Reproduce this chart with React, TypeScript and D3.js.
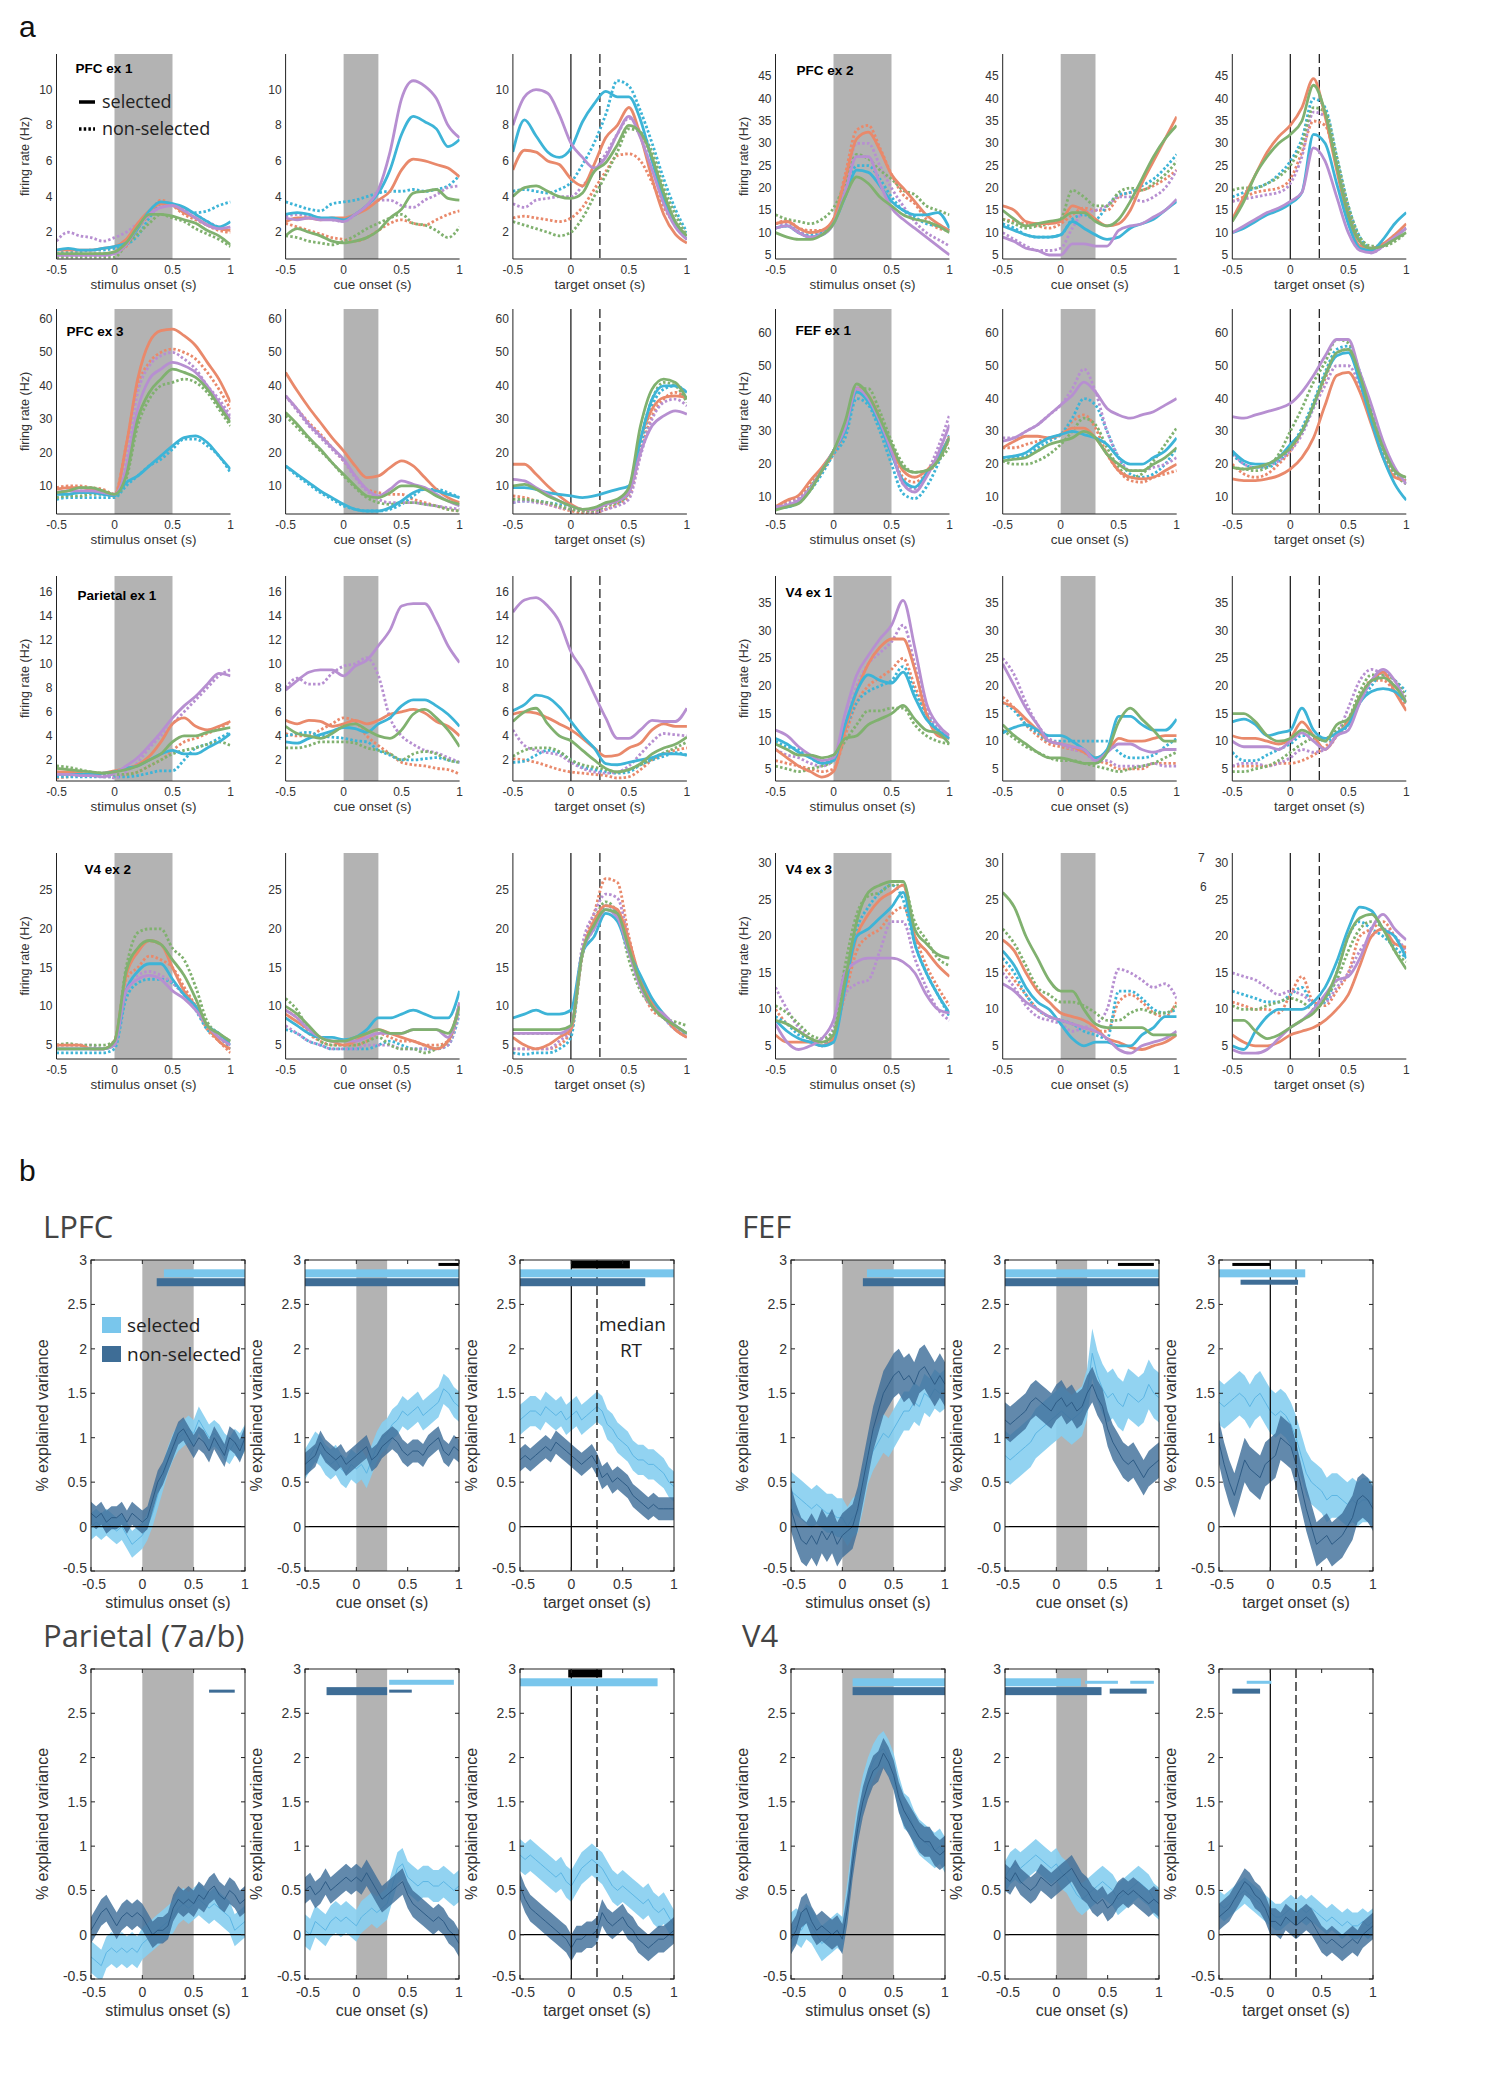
import React from 'react';
import * as d3 from 'd3';

// time grids (s)
const timeA = [-0.5, -0.4, -0.3, -0.2, -0.1, 0, 0.1, 0.2, 0.3, 0.4, 0.5, 0.6, 0.7, 0.8, 0.9, 1];
const timeB = [-0.5, -0.45, -0.4, -0.35, -0.3, -0.25, -0.2, -0.15, -0.1, -0.05, 0, 0.05, 0.1, 0.15, 0.2, 0.25,
  0.3, 0.35, 0.4, 0.45, 0.5, 0.55, 0.6, 0.65, 0.7, 0.75, 0.8, 0.85, 0.9, 0.95, 1];

const xTicks = [-0.5, 0, 0.5, 1];
const epochLabels = ['stimulus onset (s)', 'cue onset (s)', 'target onset (s)'];
const shadeEnd = [0.5, 0.3, null];
const medianRT = 0.25;

// series order in every panel of (a): orange sel, orange non, blue sel, blue non, purple sel, purple non, green sel, green non
const seriesColors = ['#E9896B', '#E9896B', '#3DB4D7', '#3DB4D7', '#B78FD1', '#B78FD1', '#80B16F', '#80B16F'];

// ---------- (a) firing rates ----------
const pfc1Stim = [
  [1.0, 1.0, 1.0, 1.0, 1.1, 1.2, 1.6, 2.5, 3.2, 3.6, 3.5, 3.1, 2.8, 2.4, 2.2, 2.1],
  [0.6, 0.7, 0.7, 0.8, 0.8, 0.9, 1.2, 2.2, 3.0, 3.8, 3.5, 3.0, 2.7, 2.4, 2.1, 2.0],
  [1.0, 1.1, 1.0, 1.0, 1.1, 1.2, 1.4, 2.2, 3.2, 3.7, 3.6, 3.4, 3.0, 2.6, 2.3, 2.6],
  [0.8, 0.9, 0.9, 1.0, 1.0, 1.1, 1.3, 1.8, 2.8, 3.6, 3.5, 3.3, 3.1, 3.2, 3.5, 3.7],
  [0.7, 0.7, 0.7, 0.7, 0.7, 0.8, 1.3, 2.3, 3.0, 3.4, 3.5, 3.2, 2.8, 2.4, 2.2, 2.3],
  [1.5, 2.0, 1.8, 1.7, 1.5, 1.7, 2.0, 2.5, 3.0, 3.4, 3.5, 3.3, 3.0, 2.6, 2.3, 2.2],
  [0.8, 0.8, 0.8, 0.8, 0.8, 0.9, 1.4, 2.3, 3.0, 3.0, 2.9, 2.7, 2.5, 2.1, 1.8, 1.3],
  [0.6, 0.6, 0.6, 0.6, 0.6, 0.6, 1.3, 1.9, 2.5, 3.0, 2.8, 2.6, 2.2, 1.9, 1.6, 1.2],
];
const pfc1Cue = [
  [2.6, 2.8, 2.8, 2.7, 2.8, 2.8, 3.0, 3.3, 3.8, 4.3, 5.5, 6.1, 6.0, 5.8, 5.6, 5.1],
  [2.5, 2.3, 2.1, 1.9, 1.7, 1.6, 1.5, 1.7, 2.1, 2.5, 2.7, 2.5, 2.4, 2.7, 3.0, 3.2],
  [3.0, 3.1, 3.0, 2.8, 2.8, 2.7, 3.0, 3.5, 4.2, 5.5, 7.5, 8.5, 8.2, 7.8, 6.8, 7.2],
  [3.7, 3.5, 3.3, 3.2, 3.6, 3.7, 3.8, 4.0, 4.2, 4.3, 4.3, 4.4, 4.3, 4.4, 4.6, 5.2],
  [2.8, 2.7, 2.8, 2.7, 2.7, 2.6, 3.0, 3.5, 4.4, 6.5, 9.5, 10.5, 10.2, 9.5, 8.0, 7.3],
  [2.9, 3.0, 2.9, 2.8, 2.7, 2.6, 3.0, 3.4, 3.8, 3.8, 3.5, 3.4, 3.8, 4.1, 4.5, 4.6],
  [1.8, 2.2, 2.0, 1.8, 1.5, 1.4, 1.5, 1.7, 2.1, 2.8, 3.3, 4.2, 4.3, 4.4, 3.9, 3.8],
  [1.8, 1.7, 1.5, 1.4, 1.3, 1.5, 1.8, 2.2, 2.5, 2.8, 3.0, 2.5, 2.4, 2.1, 1.7, 2.3],
];
const pfc1Target = [
  [5.5, 6.6, 6.5, 6.0, 5.8, 5.0, 4.6, 5.8, 7.3, 8.0, 9.0, 7.4, 5.0, 3.0, 1.9, 1.4],
  [2.8, 2.9, 2.8, 2.7, 2.6, 2.8, 3.4, 4.4, 5.4, 6.3, 6.4, 6.0, 4.8, 3.4, 2.4, 1.6],
  [6.5, 8.3, 7.4, 6.5, 6.2, 6.7, 8.2, 9.2, 9.9, 9.6, 9.6, 8.3, 6.0, 3.9, 2.4, 1.6],
  [4.3, 4.4, 4.3, 4.2, 4.4, 4.8, 5.8, 7.0, 8.6, 10.5, 10.2, 8.8, 7.0, 5.0, 3.3, 2.0],
  [8.0, 9.6, 10.0, 9.8, 8.6, 7.0, 6.2, 5.6, 6.2, 7.5, 8.5, 7.3, 5.5, 3.6, 2.3, 1.6],
  [3.6, 3.4, 3.8, 3.9, 4.0, 4.0, 4.6, 5.4, 6.4, 7.5, 8.4, 7.6, 6.0, 4.1, 2.6, 1.8],
  [4.0, 4.5, 4.6, 4.3, 4.0, 3.9, 4.2, 5.4, 5.9, 6.9, 8.0, 7.6, 6.2, 4.2, 2.6, 1.8],
  [2.6, 2.4, 2.2, 2.0, 1.8, 2.0, 2.8, 4.0, 5.2, 6.5, 7.8, 7.6, 6.5, 4.5, 3.0, 1.8],
];

const pfc2Stim = [
  [12, 12.5, 11, 10, 10.5, 13, 22, 31, 32.5, 28.5, 23, 20, 17, 14, 12, 10.5],
  [12, 12.8, 11, 10.5, 10.5, 13, 23, 33, 34, 29, 23, 18.5, 16.5, 13, 11, 10.5],
  [11, 11.5, 10, 9, 9.5, 12, 18, 24, 23.5, 20.5, 17, 15, 14, 14, 14.5, 11],
  [11, 11.5, 10, 9.5, 10, 12.5, 19, 25, 25, 22, 18, 15, 13.5, 12, 11.5, 10.5],
  [11, 11.5, 10, 9, 9.5, 12, 19, 27, 27, 21, 15.5, 13, 11, 9, 7, 5],
  [12, 12, 10.5, 9, 10, 12.5, 21, 30, 30, 25, 20, 16, 12.5, 10, 8.5, 7],
  [10, 9, 8.5, 8.5, 9.5, 12, 18, 22.5, 21, 18, 16, 14, 13, 12.5, 11.5, 10],
  [14, 13, 12.5, 12, 13, 15.5, 21, 27.5, 26.5, 24, 22, 19.5, 18.5, 16, 15, 14],
];
const pfc2Cue = [
  [16, 15, 12.5, 12, 12, 12.5, 16, 15, 13, 11.5, 12, 15, 21, 26, 31, 36],
  [13, 12.5, 12, 11.5, 11, 12, 14, 15.5, 15, 15, 18, 19, 19.5, 20.5, 22, 24],
  [11.5, 10.5, 9.5, 9, 9, 9.5, 12.5, 11, 9.5, 8.5, 9, 11, 12, 13, 15, 17],
  [12, 11, 9.5, 9, 9, 9.5, 13, 14, 13, 16, 18.5, 19, 20.5, 22, 24.5, 27.5],
  [9, 8, 6.5, 6, 5, 5, 7.5, 7.5, 7, 7, 10.5, 11.5, 12, 13.5, 15, 17.5],
  [10, 8.5, 7, 6, 6, 6.5, 11, 14.5, 15, 16, 18, 18, 17, 18, 20, 24],
  [15, 13, 11.5, 12, 12.5, 13, 14.5, 14.5, 12.5, 11.5, 13, 17, 22, 27, 31, 34],
  [13, 12, 11, 11.5, 12, 13, 19.5, 18, 16, 16, 19, 20, 19.5, 21, 23, 26],
];
const pfc2Target = [
  [13, 18, 23, 28, 31.5, 34, 38, 44.5, 36, 24, 13, 7, 6.5, 7.5, 9.5, 12],
  [17, 18, 19, 19.5, 20, 22, 28, 35, 34, 25, 15, 8, 6, 7, 9, 11],
  [10, 11, 12.5, 14, 15, 16.5, 19, 32, 30, 21, 12, 6.5, 6, 8.5, 12, 14.5],
  [18, 19, 20, 21, 23, 26, 31, 40, 38, 27, 16, 9, 6.5, 7.5, 9, 11],
  [10, 11.5, 13, 14.5, 15.5, 17, 19, 29, 26, 18, 10, 6, 5.5, 7, 9, 11],
  [17, 17.5, 18, 18.5, 19, 21, 27, 37, 36, 26, 15, 8, 5.5, 7, 9.5, 11],
  [12.5, 17, 23, 27, 30, 32, 35, 43, 37, 25, 14, 8, 6.5, 7, 8.5, 10],
  [19.5, 20, 20, 21, 22.5, 25, 30, 38, 37, 27, 16, 9, 7, 7, 8, 10],
];

const pfc3Stim = [
  [9, 9.5, 9.5, 9, 8.5, 7, 22, 42, 53, 56.5, 57, 55, 52, 47, 42, 35],
  [9.5, 10, 10, 9.5, 9, 7.5, 22, 40, 47, 50, 51, 50, 48, 44, 39, 33],
  [7.5, 7.5, 8, 8, 7.5, 7, 11, 13, 16, 19, 22, 24.5, 25, 23, 19, 15],
  [6, 6.5, 6.5, 6.5, 6.5, 6.5, 10, 13, 16, 18, 21, 24, 24, 22, 19, 14],
  [8, 8.5, 8.5, 8.5, 8, 7.5, 15, 33, 42, 45, 47, 46, 44, 40, 35, 30],
  [8, 8.5, 8.5, 8.5, 8, 7.5, 18, 38, 46, 49, 50, 48, 45, 40, 36, 31],
  [8, 8.5, 9.5, 9.5, 8.5, 7.5, 13, 30, 38, 42, 45, 44, 42.5, 39, 34, 29],
  [6.5, 7, 7, 7.5, 7.5, 7, 12, 28, 36, 40, 41, 42, 41, 38, 33, 28],
];
const pfc3Cue = [
  [44, 38.5, 33.5, 29, 24.5, 20.5, 16, 12.5, 13, 15.5, 17.5, 16, 12.5, 9, 6.5, 5],
  [37, 33, 29, 25.5, 21.5, 17.5, 13, 9, 8, 7.5, 7.5, 6, 5, 4, 3, 2.5],
  [16, 13.5, 11, 8.5, 6.5, 4.5, 3, 2.5, 2.5, 3.5, 5.5, 8, 9, 8.5, 7.5, 6.5],
  [16, 13, 10.5, 8, 6, 4, 3, 2.5, 2.5, 3, 4.5, 7, 9, 9, 8, 6.5],
  [37, 33, 28.5, 25, 21.5, 18, 13, 9, 7, 9, 11.5, 10.5, 9.5, 7.5, 5.5, 4],
  [37, 32.5, 28, 24.5, 21, 17.5, 12.5, 8.5, 6, 5, 5, 5, 4.5, 4, 3.5, 3],
  [32, 28.5, 24.5, 21, 17, 13.5, 10, 7, 6.5, 8, 10, 10, 9, 7, 5.5, 4.5],
  [31, 27.5, 24, 20.5, 17, 13, 9.5, 6.5, 5, 4.5, 5, 5, 4.5, 4, 3, 2.5],
];
const pfc3Target = [
  [16.5, 16.5, 13.5, 10, 7, 4.5, 3, 3, 4.5, 5.5, 9, 24, 33, 36.5, 37, 36.5],
  [7, 6.5, 5.5, 4.5, 3.5, 2.5, 2, 2, 3, 4.5, 7, 20, 31, 36, 38, 36],
  [9.5, 9.5, 9, 8, 7.5, 7, 6.5, 7, 8, 9, 10, 24, 36, 40, 40, 38],
  [5, 5.5, 5.5, 5, 4.5, 4, 3, 3, 4.5, 5, 8, 22, 34, 39, 40, 38],
  [12, 11.5, 9.5, 7.5, 5.5, 4, 3, 3, 4.5, 5.5, 8, 20, 28, 31, 32.5, 31.5],
  [5, 5.5, 5, 4.5, 3.5, 3, 2.5, 2, 3, 4, 6, 19, 30, 35, 36, 34],
  [10, 10.5, 9, 7, 5.5, 4, 3, 3.5, 5, 6, 9.5, 28, 39, 42, 41, 36],
  [6, 6, 5.5, 5, 4, 3, 2.5, 2.5, 4, 5, 8, 24, 36, 41, 40, 35],
];

const fef1Stim = [
  [7, 9, 10.5, 15, 19, 24, 31, 43, 41, 34, 25, 18, 16, 18, 22, 28.5],
  [7, 8.5, 10, 14, 18, 23, 30, 42, 40, 33, 24, 16, 14.5, 17, 21, 27.5],
  [7, 7, 8.5, 12.5, 18, 24, 30, 42, 39, 32, 23, 15, 13, 17, 22, 28],
  [6.5, 7, 8.5, 12, 17, 23, 28, 40, 38, 30, 20, 11, 9.5, 13, 20, 29],
  [7, 7.5, 9, 12.5, 18, 24, 31, 43, 40, 33, 24, 14, 11.5, 16, 23, 32],
  [7, 8, 9.5, 13, 18, 24, 32, 44, 41, 33, 24, 14, 12.5, 17, 25, 35],
  [6, 7, 8, 12, 18, 24, 33, 44.5, 41, 34, 26, 19, 17.5, 18, 21, 28],
  [7, 7.5, 8.5, 13, 18, 24, 32, 43, 43, 36, 27, 20, 17.5, 18, 21, 25],
];
const fef1Cue = [
  [25, 27, 28.5, 28.5, 28, 29, 31, 31, 28, 23, 18, 16, 15.5, 16, 18, 20],
  [25, 25, 26, 27, 28, 29, 33, 35, 31, 23, 18, 15, 14.5, 16, 17, 18],
  [22, 22.5, 23.5, 26, 28, 29, 30, 29, 28, 26, 22, 20, 20, 22, 24, 28],
  [22, 22, 22.5, 25, 27, 29, 34, 40, 38, 30, 22, 17, 16, 17, 20, 25],
  [27, 28, 30, 32, 35, 38, 41, 45, 42, 37, 35, 34, 35, 36, 38, 40],
  [28, 28, 30, 32, 35, 38, 43, 49, 42, 30, 22, 18, 18, 19, 20, 22],
  [21, 21.5, 22, 24, 26, 27, 28, 30, 28, 23, 20, 18, 18, 20, 22, 25],
  [21, 20, 20, 21, 23, 26, 30, 34, 32, 25, 19, 16, 17, 21, 26, 31],
];
const fef1Target = [
  [15.5, 15, 15, 15.5, 16.5, 18.5, 22, 28, 38, 47, 48, 42, 32, 22, 16, 15],
  [20, 17, 16, 17, 20, 24, 30, 38, 46, 54, 55, 47, 35, 25, 18, 16],
  [24, 21, 20, 20, 22, 26, 30, 38, 47, 53, 54, 45, 33, 22, 14, 9],
  [23, 20, 19, 19, 21, 25, 31, 39, 48, 55, 56, 48, 36, 25, 18, 15],
  [34.5, 34, 35, 36, 37, 38.5, 42, 47, 53, 58, 58, 48, 38, 27, 19, 14],
  [24, 20, 19, 19.5, 21, 24, 29, 37, 44, 50, 50, 44, 34, 24, 17, 14],
  [19, 18.5, 19, 20, 22, 25, 30, 38, 47, 54, 55, 47, 35, 25, 18, 16],
  [19, 18.5, 18, 19, 23, 30, 37, 45, 51, 58, 57, 47, 34, 23, 17, 14],
];

const par1Stim = [
  [1.0, 1.0, 0.9, 0.8, 0.9, 1.1, 1.3, 1.6, 2.3, 3.5, 5.0, 5.5, 4.8, 4.5, 4.8, 5.2],
  [0.5, 0.6, 0.7, 0.7, 0.6, 0.6, 0.8, 1.0, 1.5, 2.0, 2.8, 3.5, 3.8, 4.2, 4.6, 5.2],
  [0.8, 0.8, 0.8, 0.8, 0.9, 1.0, 1.3, 1.5, 2.0, 2.5, 2.8, 2.5, 2.5, 3.0, 3.5, 4.2],
  [0.6, 0.6, 0.6, 0.6, 0.6, 0.6, 0.6, 0.7, 0.9, 1.1, 1.1, 2.0, 3.0, 3.3, 3.8, 4.3],
  [0.8, 0.8, 0.7, 0.7, 0.6, 0.9, 1.5, 2.2, 3.2, 4.3, 5.5, 6.5, 7.3, 8.3, 9.2, 9.0],
  [1.0, 0.9, 0.8, 0.9, 0.8, 0.5, 1.0, 1.8, 3.0, 4.0, 5.0, 6.0, 7.0, 8.0, 9.0, 9.5],
  [1.3, 1.2, 1.1, 1.0, 0.9, 1.0, 1.2, 1.5, 2.0, 2.5, 3.5, 4.0, 4.0, 4.3, 4.5, 4.7],
  [1.5, 1.4, 1.2, 1.0, 0.9, 0.8, 0.8, 1.0, 1.5, 2.0, 2.5, 2.8, 3.0, 3.3, 3.5, 3.2],
];
const par1Cue = [
  [5.3, 5.0, 5.3, 5.2, 4.8, 5.0, 5.3, 5.0, 5.3, 5.8, 6.0, 6.2, 5.9, 5.2, 4.8, 4.0],
  [4.2, 4.0, 4.0, 4.5, 5.0, 5.5, 5.2, 4.0, 3.2, 2.5, 1.8, 1.6, 1.5, 1.3, 1.2, 0.8],
  [3.5, 3.4, 3.8, 4.1, 4.4, 4.7, 4.6, 4.3, 5.0, 5.5, 6.5, 7.0, 7.0, 6.5, 5.8, 4.8],
  [4.0, 4.2, 4.3, 4.0, 3.9, 3.8, 3.6, 3.5, 2.8, 2.4, 2.0, 2.0, 2.1, 2.2, 2.0, 1.8],
  [7.8, 8.6, 9.3, 9.5, 9.5, 9.0, 9.8, 10.3, 11.5, 12.8, 14.8, 15.0, 15.0, 13.5, 11.5, 10.1],
  [8.0, 8.8, 8.3, 8.3, 9.2, 9.8, 10.0, 10.5, 9.0, 5.5, 4.0, 3.3, 2.8, 2.6, 2.2, 1.8],
  [4.8, 4.2, 4.0, 3.8, 4.2, 4.8, 5.0, 4.5, 4.0, 3.8, 4.5, 5.8, 6.2, 5.5, 4.5, 3.1],
  [3.0, 3.0, 3.2, 3.5, 3.5, 3.5, 3.4, 3.0, 2.8, 2.5, 2.0, 2.5, 2.7, 2.5, 2.0, 1.8],
];
const par1Target = [
  [5.8, 6.0, 5.9, 5.5, 5.0, 4.5, 3.8, 3.0, 2.3, 2.4, 3.0, 3.4, 4.5, 5.0, 4.8, 4.8],
  [2.1, 2.0, 1.8, 1.5, 1.2, 1.0, 0.9, 0.8, 0.7, 0.5, 0.6, 1.2, 2.0, 2.5, 2.8, 3.0],
  [6.1, 6.6, 7.4, 7.2, 6.4, 5.2, 4.0, 3.0, 1.7, 1.6, 1.8, 2.0, 2.2, 2.5, 2.5, 2.4],
  [1.8, 1.9, 2.4, 2.8, 2.6, 2.0, 1.4, 1.2, 1.0, 0.9, 1.0, 1.6, 2.0, 2.3, 2.6, 2.4],
  [14.3, 15.3, 15.5, 14.8, 13.5, 11.0, 9.5, 7.5, 5.5, 3.8, 3.8, 4.5, 5.3, 5.2, 5.2, 6.3],
  [4.5, 3.2, 2.8, 2.6, 2.4, 1.8, 1.3, 1.0, 0.9, 1.0, 1.5, 2.5, 3.5, 4.2, 4.1, 4.0],
  [5.2, 6.0, 6.3, 5.0, 4.0, 3.6, 2.8, 2.0, 1.3, 1.0, 1.2, 1.7, 2.5, 3.0, 3.3, 3.9],
  [2.3, 2.8, 3.0, 3.0, 2.7, 2.0, 1.6, 1.4, 1.2, 1.0, 1.2, 1.6, 2.1, 2.6, 3.0, 3.5],
];

const v4a1Stim = [
  [8.5, 7, 5.5, 4.5, 3.5, 4.5, 12, 19, 24, 27, 28.5, 28.5, 23, 15, 11, 10.5],
  [6.5, 6, 5.5, 5, 4.5, 5, 11, 17, 20, 21.5, 23, 25, 20, 15, 11.5, 10.5],
  [10.5, 9.5, 8, 7, 6, 6.5, 13, 19, 22, 21, 20.5, 22.5, 18, 14, 12, 10.5],
  [10, 9, 8.5, 7, 6, 7, 12, 17, 19, 20, 21, 23.5, 19, 15, 12, 10.5],
  [12, 11, 9, 7.5, 6.5, 7, 15, 22, 25.5, 28.5, 31, 35.5, 27, 17, 13, 11],
  [8.5, 7.5, 7, 6, 5.5, 6.5, 13, 20, 24, 26, 28, 31, 24, 16, 12.5, 11],
  [9.5, 8.5, 7.5, 7.5, 7, 7.5, 10.5, 11, 13, 14, 15, 16.5, 14, 12, 11.5, 9.5],
  [5.5, 5, 4.5, 5, 5.5, 6.5, 10, 13, 15.5, 15.5, 16, 16, 13, 11, 10, 9.5],
];
const v4a1Cue = [
  [17, 16, 14, 12, 10, 9.5, 9, 8, 7, 8, 10.5, 10, 10, 10.5, 11, 11],
  [18, 16, 13, 11, 9.5, 9, 8.5, 8, 6.5, 6, 5, 5, 5, 6, 6, 6],
  [11.5, 12.5, 13, 12, 11, 11, 10, 8.5, 7, 8.5, 14.5, 14.5, 13, 12, 12, 14],
  [17, 15.5, 13, 11.5, 10, 10, 10, 10, 10, 10, 8, 7, 7, 7.5, 9, 10.5],
  [24, 20, 16, 13, 10, 9.5, 9, 8.5, 6.5, 8, 9.5, 9.5, 8.5, 8, 8.5, 8.5],
  [25, 22, 17, 13, 10.5, 9.5, 8.5, 8, 6.5, 6.5, 5.5, 5.5, 5.5, 6, 5.5, 5.5],
  [13, 11, 9.5, 8, 7, 7, 6.5, 6, 6, 8, 13.5, 16, 14, 12, 10, 10],
  [12, 10.5, 9, 8, 7, 6.5, 6.5, 6, 5.5, 5, 4.5, 5, 5.5, 6, 7, 8],
];
const v4a1Target = [
  [11, 10.5, 10.5, 10, 9.5, 10.5, 13.5, 11, 8.5, 11, 13.5, 18, 21, 22.5, 19, 15.5],
  [5.5, 5.5, 5.5, 5.5, 6, 6, 6.5, 7.5, 9, 11, 14, 18, 21, 21, 19, 16.5],
  [13.5, 14, 13, 11, 11.5, 12, 16, 12, 10.5, 11.5, 13, 17, 19, 19.5, 19, 17],
  [8, 6.5, 6.5, 7.5, 8.5, 9.5, 11, 11, 10, 11, 13, 17, 20, 22.5, 21, 19],
  [10, 9, 9, 9, 8.5, 10, 11.5, 10, 8.5, 11, 12, 17, 21, 23, 21, 17],
  [5.5, 6, 6, 5.5, 6, 7, 8.5, 8, 8.5, 11, 16, 21, 23, 22, 20, 17],
  [15, 15, 13.5, 11, 10, 10.5, 12, 11, 10, 13, 14, 18, 21, 21.5, 20, 17],
  [4.5, 4.5, 5, 5.5, 6.5, 8, 9.5, 10.5, 10.5, 12, 14, 19, 22, 22, 21, 18],
];

const v4a2Stim = [
  [5, 5, 5, 4.5, 4.5, 5.5, 14, 17, 18.5, 18, 15, 12, 10, 7.5, 5.5, 4.5],
  [5, 5, 5, 4.5, 4.5, 5.5, 13.5, 15, 16.5, 16, 15, 12.5, 10, 7, 5.5, 4],
  [4.5, 4.5, 4.5, 4.5, 4.5, 5, 12, 14.5, 15.5, 15.5, 13.5, 11.5, 10, 7.5, 6.5, 5],
  [4, 4, 4, 4, 4, 4.5, 11, 13, 13.5, 13.5, 13, 11.5, 9.5, 7, 6, 4.5],
  [4.5, 4.5, 4.5, 4.5, 4.5, 5, 12, 13.5, 14, 13.5, 12, 11, 9.5, 7.5, 6, 5],
  [5, 5, 5, 5, 4.5, 5.5, 12.5, 14, 14.5, 14, 13, 11.5, 10, 7.5, 6, 5],
  [4.5, 4.5, 4.5, 4.5, 4.5, 5.5, 14.5, 17.5, 18.5, 18, 16, 14, 11, 7.5, 6.5, 5.5],
  [5, 5.2, 5, 5, 5, 5.5, 15, 19.5, 20, 20, 17.5, 16, 12.5, 8, 6.5, 5.5],
];
const v4a2Cue = [
  [9, 8, 7, 6, 5.5, 5, 5.5, 6.5, 7, 6.5, 6, 5.5, 5, 4.5, 5.5, 10.5],
  [9.5, 8.5, 6.5, 5.5, 5, 5, 5, 5.5, 6.5, 6, 5.5, 5.5, 5, 5, 5.5, 10],
  [8.5, 7.5, 6.5, 6, 6, 5.7, 6, 7, 8.5, 8.5, 9, 9.5, 9, 8.5, 8.5, 12],
  [7, 6.5, 5.5, 5, 4.5, 4.5, 4.5, 4.5, 5, 5.5, 5, 4.5, 4.5, 4.5, 5, 9],
  [9.5, 8.5, 7, 6, 5.5, 5.5, 5.5, 6, 6.5, 6.5, 6.5, 7, 7, 7, 6, 10.5],
  [7.5, 6.5, 5.5, 5, 4.5, 4.5, 4.5, 5, 5, 5, 4.5, 4.5, 4.5, 4.5, 5, 9.5],
  [10, 9, 7.5, 6, 5.5, 5.5, 6, 6.5, 7, 6.5, 6.5, 7, 7, 7, 6.5, 10],
  [11, 9.5, 7, 5.5, 5, 5, 5, 5.5, 6, 5, 4.5, 4.5, 4, 4.5, 5.5, 10],
];
const v4a2Target = [
  [6, 5, 4.5, 5, 6, 7, 17, 21, 23, 22.5, 18.5, 13.5, 10.5, 9, 7, 6],
  [4.5, 4.5, 4.5, 4.5, 5, 7, 17, 22, 26.5, 26, 19, 13, 9.5, 8.5, 7, 6],
  [8.5, 9, 9.5, 9, 9, 9.5, 17, 19, 22, 21, 17, 14, 11, 9, 7.5, 6.5],
  [4, 3.8, 4, 4, 4.5, 6, 17, 20, 23, 22, 18, 13, 10, 8.5, 7, 6.5],
  [6.5, 6.5, 6.5, 6.5, 6.5, 7.5, 17, 20, 22.5, 21.5, 17, 12.5, 10, 9, 7.5, 6.5],
  [4.5, 4.5, 4.5, 4.5, 5.5, 7, 18, 22, 24.5, 24, 18.5, 13, 10, 8.5, 7, 6],
  [7, 7, 7, 7, 7, 7.5, 17, 20.5, 22.5, 22, 17.5, 13, 10, 8.5, 7.5, 6.5],
  [6.5, 6.5, 6.5, 6.5, 6.5, 7, 16.5, 21, 23.5, 22, 16, 12, 10, 8.5, 8, 7.5],
];

const v4a3Stim = [
  [6.5, 5.5, 5.5, 5.5, 5, 6, 13, 20, 23, 25, 26, 27, 20, 18, 16, 14.5],
  [10, 8, 7, 6, 5.5, 6.5, 12, 18, 20, 21, 23, 24, 20, 16, 13, 10.5],
  [8.5, 7, 6, 5.5, 5, 5.5, 13, 20, 21, 22.5, 24, 26, 19, 15, 12, 9.5],
  [9, 8, 6.5, 6, 5, 6.5, 14, 21, 24, 26, 27, 25, 19, 15, 12, 9],
  [8, 5.5, 4.5, 5, 6, 8.5, 15, 16.5, 17, 17, 17, 16.5, 15, 12, 10, 9.5],
  [13, 10, 7.5, 6, 5, 7.5, 12, 13.5, 14, 18, 22, 22, 17, 13, 10, 8.5],
  [8.5, 8, 7, 6, 5.5, 6.5, 14, 22, 26, 27, 27.5, 27.5, 21, 19, 17.5, 17],
  [10.5, 9.5, 8, 6.5, 6, 7, 16, 23, 25.5, 26, 27, 27, 22, 19.5, 17, 16],
];
const v4a3Cue = [
  [19.5, 18, 15, 12.5, 11, 9.5, 9, 8.5, 7.5, 6, 5.5, 4.8, 4.5, 5, 5.5, 6.5],
  [16, 14, 12, 10, 9, 8.5, 8, 7.5, 7, 7, 11, 12, 11, 9.5, 9, 11],
  [18, 16, 13, 11, 10, 8, 6, 5, 5.5, 5.5, 5, 5, 6.5, 7.5, 9, 9],
  [17, 15, 12, 10, 9, 8.5, 8, 7, 6.5, 6, 12.5, 12.5, 11.5, 10, 9.5, 10],
  [13.5, 12.5, 11, 10, 9, 8.5, 8, 7.5, 7, 6, 4.5, 4, 5, 5.5, 6, 7],
  [15, 13, 10.5, 9, 8.5, 8, 7, 7.5, 8, 10, 15.5, 15, 14, 13, 13.5, 11.5],
  [26, 24, 20, 17, 14, 12.5, 12.5, 10, 8, 7.5, 7.5, 7.5, 7.5, 6.5, 6.5, 6.5],
  [21, 19, 16, 13, 12, 11, 11, 10.5, 9.5, 8.5, 8.5, 9.5, 10, 9.5, 9.5, 10.5],
];
const v4a3Target = [
  [6.5, 5.5, 5, 5, 5.5, 6.5, 7, 7.5, 8.5, 10, 12, 16, 20, 21, 19, 18.5],
  [11, 10.5, 10, 10, 9.5, 12, 14.5, 11, 10.5, 12.5, 15, 20, 21, 22, 20, 17.5],
  [5, 4.5, 7, 9, 10, 10, 10, 11, 13, 16.5, 21, 24, 23.5, 21, 20, 17],
  [12.5, 12, 11.5, 11, 11, 12, 13, 10.5, 11, 15, 20, 22, 21, 20, 18.5, 17],
  [4.5, 4, 4, 4.5, 6, 7.5, 8.5, 10, 12, 14, 14.5, 17, 21, 23, 21, 19.5],
  [15, 14.5, 14, 13, 12, 12.5, 12, 11, 11, 13, 15, 18, 20, 21, 20, 18],
  [8.5, 8.5, 7, 6, 6.5, 7.5, 8.5, 9.5, 11.5, 15, 20, 22.5, 23, 21, 18, 15.5],
  [10.5, 10, 10, 10.5, 11, 11.5, 11, 10, 11.5, 14, 18, 21, 22, 21, 18, 16.5],
];

// ---------- (b) % explained variance ----------
const lpfcStimSel = [0.0, 0.05, 0.0, 0.05, 0.0, -0.05, 0.0, -0.1, -0.2, -0.15, -0.1, 0.0, 0.15, 0.35, 0.55, 0.75, 0.9, 1.0, 1.05, 1.1, 1.05, 1.2, 1.1, 1.0, 1.05, 1.0, 0.9, 0.85, 0.95, 0.9, 1.0];
const lpfcStimNon = [0.15, 0.1, 0.15, 0.05, 0.1, 0.1, 0.15, 0.05, 0.15, 0.1, 0.05, 0.1, 0.3, 0.5, 0.6, 0.75, 0.9, 1.05, 1.1, 1.0, 0.9, 1.0, 0.95, 0.85, 1.0, 0.9, 0.8, 1.0, 0.95, 0.85, 1.0];
const lpfcCueSel = [0.7, 0.8, 0.9, 0.85, 0.75, 0.7, 0.75, 0.65, 0.6, 0.7, 0.65, 0.7, 0.6, 0.75, 0.9, 1.0, 1.05, 1.15, 1.2, 1.3, 1.25, 1.3, 1.35, 1.25, 1.3, 1.35, 1.4, 1.55, 1.5, 1.4, 1.35];
const lpfcCueNon = [0.7, 0.75, 0.8, 0.95, 0.85, 0.8, 0.75, 0.8, 0.7, 0.75, 0.8, 0.85, 0.9, 0.75, 0.8, 0.9, 0.95, 1.0, 0.95, 0.85, 0.8, 0.85, 0.85, 0.8, 0.9, 0.95, 1.0, 0.85, 0.8, 0.9, 0.85];
const lpfcTargetSel = [1.2, 1.25, 1.3, 1.3, 1.25, 1.35, 1.3, 1.25, 1.3, 1.2, 1.25, 1.3, 1.2, 1.25, 1.3, 1.35, 1.3, 1.15, 1.1, 1.0, 0.95, 0.9, 0.8, 0.75, 0.75, 0.7, 0.7, 0.65, 0.6, 0.5, 0.45];
const lpfcTargetNon = [0.75, 0.8, 0.75, 0.8, 0.85, 0.9, 0.85, 0.95, 0.9, 0.85, 0.8, 0.75, 0.7, 0.75, 0.8, 0.7, 0.55, 0.6, 0.5, 0.55, 0.5, 0.45, 0.35, 0.3, 0.25, 0.2, 0.25, 0.2, 0.2, 0.2, 0.2];

const fefStimSel = [0.4, 0.35, 0.3, 0.25, 0.2, 0.25, 0.2, 0.15, 0.15, 0.1, 0.1, 0.0, 0.1, 0.15, 0.4, 0.7, 0.85, 0.95, 1.05, 1.0, 1.1, 1.2, 1.3, 1.3, 1.4, 1.35, 1.5, 1.45, 1.55, 1.5, 1.55];
const fefStimNon = [0.2, 0.0, -0.15, -0.2, -0.1, -0.2, -0.05, -0.15, -0.05, -0.2, -0.1, -0.05, 0.0, 0.2, 0.5, 0.8, 1.1, 1.3, 1.5, 1.6, 1.7, 1.75, 1.65, 1.7, 1.6, 1.75, 1.8, 1.7, 1.6, 1.7, 1.6];
const fefCueSel = [0.8, 0.75, 0.8, 0.85, 0.9, 0.95, 1.05, 1.1, 1.15, 1.2, 1.25, 1.3, 1.25, 1.2, 1.25, 1.3, 1.5, 1.95, 1.7, 1.55, 1.45, 1.5, 1.4, 1.35, 1.5, 1.45, 1.4, 1.45, 1.6, 1.5, 1.45];
const fefCueNon = [1.2, 1.15, 1.2, 1.25, 1.3, 1.4, 1.45, 1.4, 1.35, 1.3, 1.4, 1.45, 1.35, 1.4, 1.3, 1.35, 1.5, 1.6, 1.45, 1.35, 1.1, 0.95, 0.85, 0.75, 0.7, 0.75, 0.65, 0.55, 0.65, 0.7, 0.75];
const fefTargetSel = [1.4, 1.35, 1.4, 1.45, 1.5, 1.45, 1.35, 1.45, 1.5, 1.4, 1.3, 1.25, 1.3, 1.25, 1.15, 1.0, 0.8, 0.6, 0.5, 0.45, 0.4, 0.3, 0.35, 0.35, 0.3, 0.25, 0.3, 0.25, 0.3, 0.3, 0.25];
const fefTargetNon = [0.95, 0.7, 0.5, 0.35, 0.55, 0.75, 0.65, 0.6, 0.55, 0.7, 0.75, 0.8, 1.0, 0.95, 0.9, 0.7, 0.45, 0.2, 0.0, -0.2, -0.15, -0.1, -0.2, -0.15, -0.1, 0.0, 0.1, 0.3, 0.35, 0.3, 0.2];

const parStimSel = [-0.25, -0.3, -0.35, -0.2, -0.15, -0.2, -0.15, -0.2, -0.15, -0.2, -0.1, -0.05, 0.0, 0.05, 0.1, 0.15, 0.2, 0.3, 0.35, 0.3, 0.35, 0.4, 0.35, 0.3, 0.35, 0.3, 0.25, 0.2, 0.05, 0.1, 0.15];
const parStimNon = [0.05, 0.15, 0.25, 0.3, 0.2, 0.1, 0.2, 0.25, 0.2, 0.25, 0.2, 0.1, 0.0, 0.05, 0.05, 0.1, 0.3, 0.4, 0.35, 0.4, 0.35, 0.45, 0.4, 0.5, 0.55, 0.45, 0.4, 0.5, 0.45, 0.35, 0.4];
const parCueSel = [0.05, 0.0, 0.15, 0.1, 0.05, 0.15, 0.2, 0.15, 0.2, 0.15, 0.1, 0.2, 0.25, 0.3, 0.25, 0.3, 0.35, 0.55, 0.75, 0.8, 0.65, 0.6, 0.55, 0.6, 0.6, 0.55, 0.55, 0.6, 0.55, 0.5, 0.55];
const parCueNon = [0.5, 0.55, 0.45, 0.5, 0.6, 0.5, 0.55, 0.6, 0.65, 0.6, 0.65, 0.6, 0.7, 0.6, 0.5, 0.4, 0.45, 0.5, 0.55, 0.6, 0.45, 0.35, 0.3, 0.25, 0.2, 0.15, 0.2, 0.15, 0.05, 0.0, -0.1];
const parTargetSel = [0.9, 0.85, 0.9, 0.85, 0.8, 0.75, 0.7, 0.65, 0.7, 0.6, 0.55, 0.65, 0.75, 0.8, 0.85, 0.8, 0.75, 0.65, 0.55, 0.5, 0.55, 0.5, 0.45, 0.4, 0.35, 0.4, 0.3, 0.25, 0.3, 0.2, 0.1];
const parTargetNon = [0.55, 0.4, 0.3, 0.25, 0.2, 0.15, 0.1, 0.05, 0.0, -0.05, -0.15, -0.05, -0.05, 0.0, 0.0, 0.05, 0.25, 0.15, 0.1, 0.15, 0.2, 0.1, 0.05, -0.05, -0.1, -0.15, -0.1, -0.05, -0.05, 0.0, 0.05];

const v4StimSel = [0.05, 0.1, 0.05, 0.15, 0.1, 0.0, -0.1, -0.05, 0.0, 0.05, 0.0, 0.4, 0.9, 1.3, 1.6, 1.8, 1.95, 2.05, 2.1, 2.0, 1.85, 1.6, 1.4, 1.35, 1.2, 1.1, 1.05, 1.0, 0.95, 1.0, 0.9];
const v4StimNon = [-0.05, 0.05, 0.25, 0.3, 0.15, 0.05, 0.1, 0.05, 0.0, 0.05, -0.05, 0.3, 0.8, 1.2, 1.5, 1.7, 1.85, 1.9, 2.05, 1.95, 1.8, 1.55, 1.4, 1.3, 1.2, 1.1, 1.05, 1.05, 0.95, 0.9, 0.95];
const v4CueSel = [0.65, 0.75, 0.8, 0.75, 0.8, 0.85, 0.9, 0.85, 0.8, 0.75, 0.8, 0.7, 0.65, 0.55, 0.45, 0.4, 0.45, 0.5, 0.55, 0.6, 0.55, 0.5, 0.4, 0.45, 0.5, 0.55, 0.6, 0.55, 0.5, 0.4, 0.35];
const v4CueNon = [0.65, 0.6, 0.7, 0.6, 0.55, 0.5, 0.55, 0.65, 0.6, 0.55, 0.6, 0.65, 0.7, 0.75, 0.65, 0.55, 0.5, 0.4, 0.35, 0.4, 0.3, 0.35, 0.45, 0.5, 0.45, 0.5, 0.45, 0.4, 0.35, 0.4, 0.35];
const v4TargetSel = [0.35, 0.3, 0.35, 0.4, 0.45, 0.5, 0.45, 0.4, 0.35, 0.3, 0.25, 0.2, 0.2, 0.25, 0.3, 0.25, 0.3, 0.25, 0.3, 0.25, 0.2, 0.15, 0.2, 0.15, 0.1, 0.15, 0.1, 0.1, 0.15, 0.1, 0.15];
const v4TargetNon = [0.2, 0.25, 0.3, 0.4, 0.5, 0.6, 0.55, 0.45, 0.4, 0.3, 0.15, 0.15, 0.1, 0.2, 0.15, 0.1, 0.15, 0.2, 0.15, 0.05, -0.05, -0.1, -0.05, -0.1, -0.15, -0.1, -0.05, -0.1, 0.0, 0.05, 0.1];

// s.e.m. half widths [selected, non-selected]
const lpfcSem = [[0.15, 0.13], [0.17, 0.13], [0.17, 0.13]];
const fefSem = [[0.22, 0.25], [0.28, 0.2], [0.25, 0.25]];
const parSem = [[0.18, 0.15], [0.18, 0.15], [0.18, 0.15]];
const v4Sem = [[0.2, 0.17], [0.18, 0.15], [0.15, 0.15]];

// significance bars: [from, to, which, weight]
const lpfcBars = [
  [[0.21, 1, 'sel', 'thick'], [0.14, 1, 'non', 'thick']],
  [[-0.5, 1, 'sel', 'thick'], [-0.5, 1, 'non', 'thick'], [0.8, 1, 'diff', 'thin']],
  [[0, 0.57, 'diff', 'thick'], [-0.5, 1, 'sel', 'thick'], [-0.5, 0.72, 'non', 'thick']],
];
const fefBars = [
  [[0.24, 1, 'sel', 'thick'], [0.2, 1, 'non', 'thick']],
  [[-0.5, 1, 'sel', 'thick'], [-0.5, 1, 'non', 'thick'], [0.6, 0.95, 'diff', 'thin']],
  [[-0.37, 0, 'diff', 'thin'], [-0.5, 0.34, 'sel', 'thick'], [-0.29, 0.27, 'non', 'mid']],
];
const parBars = [
  [[0.65, 0.9, 'non', 'thin']],
  [[0.32, 0.95, 'sel', 'mid'], [-0.29, 0.3, 'non', 'thick'], [0.32, 0.54, 'non', 'thin']],
  [[-0.03, 0.3, 'diff', 'thick'], [-0.5, 0.84, 'sel', 'thick']],
];
const v4Bars = [
  [[0.1, 1, 'sel', 'thick'], [0.1, 1, 'non', 'thick']],
  [[-0.5, 0.24, 'sel', 'thick'], [0.28, 0.6, 'sel', 'thin'], [0.72, 0.95, 'sel', 'thin'], [-0.5, 0.44, 'non', 'thick'], [0.52, 0.88, 'non', 'mid']],
  [[-0.23, 0.01, 'sel', 'thin'], [-0.37, -0.1, 'non', 'mid']],
];

const yTicksB = [-0.5, 0, 0.5, 1, 1.5, 2, 2.5, 3];

// ---------- layout ----------
const REG = "'Liberation Sans', Arial, sans-serif";
const SOFT = "'Open Sans', 'Liberation Sans', sans-serif";
const GRAY = '#B3B3B3';
const SEL = '#86CEF0';
const NON = '#3F6F9A';

const colsA = [[56.5, 285.6, 512.9], [775.5, 1002.7, 1232.3]];
const wA = 174;
const rowsA = [
  {
    y0: 54, h: 205, groups: [
      { title: 'PFC ex 1', tpos: [19, 19], yDomain: [0.5, 12], yTicks: [2, 4, 6, 8, 10], panels: [pfc1Stim, pfc1Cue, pfc1Target] },
      { title: 'PFC ex 2', tpos: [21, 21], yDomain: [4.1, 50], yTicks: [5, 10, 15, 20, 25, 30, 35, 40, 45], panels: [pfc2Stim, pfc2Cue, pfc2Target] },
    ],
  },
  {
    y0: 309, h: 205, groups: [
      { title: 'PFC ex 3', tpos: [10, 27], yDomain: [1.6, 63], yTicks: [10, 20, 30, 40, 50, 60], panels: [pfc3Stim, pfc3Cue, pfc3Target] },
      { title: 'FEF ex 1', tpos: [20, 26], yDomain: [4.8, 67.3], yTicks: [10, 20, 30, 40, 50, 60], panels: [fef1Stim, fef1Cue, fef1Target] },
    ],
  },
  {
    y0: 576, h: 205, groups: [
      { title: 'Parietal ex 1', tpos: [21, 24], yDomain: [0.25, 17.3], yTicks: [2, 4, 6, 8, 10, 12, 14, 16], panels: [par1Stim, par1Cue, par1Target] },
      { title: 'V4 ex 1', tpos: [10, 21], yDomain: [2.8, 39.9], yTicks: [5, 10, 15, 20, 25, 30, 35], panels: [v4a1Stim, v4a1Cue, v4a1Target] },
    ],
  },
  {
    y0: 853, h: 206, groups: [
      { title: 'V4 ex 2', tpos: [28, 21], yDomain: [3.2, 29.8], yTicks: [5, 10, 15, 20, 25], panels: [v4a2Stim, v4a2Cue, v4a2Target] },
      { title: 'V4 ex 3', tpos: [10, 21], yDomain: [3.2, 31.4], yTicks: [5, 10, 15, 20, 25, 30], panels: [v4a3Stim, v4a3Cue, v4a3Target] },
    ],
  },
];

const colsB = [[91, 305, 520], [791, 1005, 1219]];
const wB = 154;
const rowsB = [
  {
    y0: 1260, h: 311, titleY: 1238, groups: [
      { title: 'LPFC', sel: [lpfcStimSel, lpfcCueSel, lpfcTargetSel], non: [lpfcStimNon, lpfcCueNon, lpfcTargetNon], sem: lpfcSem, bars: lpfcBars },
      { title: 'FEF', sel: [fefStimSel, fefCueSel, fefTargetSel], non: [fefStimNon, fefCueNon, fefTargetNon], sem: fefSem, bars: fefBars },
    ],
  },
  {
    y0: 1669, h: 310, titleY: 1647, groups: [
      { title: 'Parietal (7a/b)', sel: [parStimSel, parCueSel, parTargetSel], non: [parStimNon, parCueNon, parTargetNon], sem: parSem, bars: parBars },
      { title: 'V4', sel: [v4StimSel, v4CueSel, v4TargetSel], non: [v4StimNon, v4CueNon, v4TargetNon], sem: v4Sem, bars: v4Bars },
    ],
  },
];

function PanelA({ id, x0, y0, w, h, epoch, yDomain, yTicks, series, showYLabel }: any) {
  const x = d3.scaleLinear().domain([-0.5, 1]).range([x0, x0 + w]);
  const y = d3.scaleLinear().domain(yDomain).range([y0 + h, y0]);
  const line = d3.line<number>().x((_, i) => x(timeA[i])).y((d) => y(d)).curve(d3.curveMonotoneX);
  const order = [1, 3, 5, 7, 0, 2, 4, 6];
  const sEnd = shadeEnd[epoch];
  return (
    <g>
      <clipPath id={id}><rect x={x0} y={y0} width={w} height={h} /></clipPath>
      {sEnd !== null && <rect x={x(0)} y={y0} width={x(sEnd) - x(0)} height={h} fill={GRAY} />}
      {epoch === 2 && (
        <g>
          <line x1={x(0)} x2={x(0)} y1={y0} y2={y0 + h} stroke="#111" strokeWidth={1.2} />
          <line x1={x(medianRT)} x2={x(medianRT)} y1={y0} y2={y0 + h} stroke="#111" strokeWidth={1.2} strokeDasharray="9 4" />
        </g>
      )}
      <g clipPath={`url(#${id})`}>
        {order.map((i) => (
          <path key={i} d={line(series[i]) || ''} fill="none" stroke={seriesColors[i]} strokeWidth={2.8}
            strokeDasharray={i % 2 ? '2.5 2.2' : undefined} strokeLinejoin="round" />
        ))}
      </g>
      <line x1={x0} x2={x0} y1={y0} y2={y0 + h} stroke="#222" strokeWidth={1} />
      <line x1={x0} x2={x0 + w} y1={y0 + h} y2={y0 + h} stroke="#222" strokeWidth={1} />
      {yTicks.map((t: number) => (
        <text key={t} x={x0 - 4} y={y(t) + 4} textAnchor="end" fontSize={12} fontFamily={REG} fill="#333">{t}</text>
      ))}
      {xTicks.map((t) => (
        <text key={t} x={x(t)} y={y0 + h + 15} textAnchor="middle" fontSize={12} fontFamily={REG} fill="#333">{String(t)}</text>
      ))}
      <text x={x0 + w / 2} y={y0 + h + 30} textAnchor="middle" fontSize={13.5} fontFamily={REG} fill="#333">{epochLabels[epoch]}</text>
      {showYLabel && (
        <text transform={`translate(${x0 - 28},${y0 + h / 2}) rotate(-90)`} textAnchor="middle" fontSize={12.5} fontFamily={REG} fill="#333">firing rate (Hz)</text>
      )}
    </g>
  );
}

function PanelB({ id, x0, y0, w, h, epoch, sel, non, sem, bars }: any) {
  const x = d3.scaleLinear().domain([-0.5, 1]).range([x0, x0 + w]);
  const y = d3.scaleLinear().domain([-0.5, 3]).range([y0 + h, y0]);
  const band = (hw: number) => d3.area<number>().x((_, i) => x(timeB[i])).y0((d) => y(d - hw)).y1((d) => y(d + hw));
  const mean = d3.line<number>().x((_, i) => x(timeB[i])).y((d) => y(d));
  const sEnd = shadeEnd[epoch];
  const barLevel: any = { diff: 2.95, sel: 2.85, non: 2.75 };
  const barColor: any = { diff: '#000', sel: '#79C6EC', non: '#3E6D96' };
  const barH: any = { thick: 8, mid: 5, thin: 3 };
  return (
    <g>
      <clipPath id={id}><rect x={x0} y={y0} width={w} height={h} /></clipPath>
      {sEnd !== null && <rect x={x(0)} y={y0} width={x(sEnd) - x(0)} height={h} fill={GRAY} />}
      <g clipPath={`url(#${id})`}>
        <path d={band(sem[0])(sel) || ''} fill={SEL} fillOpacity={0.9} />
        <path d={mean(sel) || ''} fill="none" stroke="#5DB6E4" strokeWidth={1} />
        <path d={band(sem[1])(non) || ''} fill={NON} fillOpacity={0.82} />
        <path d={mean(non) || ''} fill="none" stroke="#2E5C86" strokeWidth={1} />
      </g>
      <line x1={x0} x2={x0 + w} y1={y(0)} y2={y(0)} stroke="#000" strokeWidth={1.2} />
      {epoch === 2 && (
        <g>
          <line x1={x(0)} x2={x(0)} y1={y0} y2={y0 + h} stroke="#111" strokeWidth={1.3} />
          <line x1={x(medianRT)} x2={x(medianRT)} y1={y0} y2={y0 + h} stroke="#111" strokeWidth={1.3} strokeDasharray="9 4" />
        </g>
      )}
      {bars.map((b: any, i: number) => (
        <rect key={i} x={x(b[0])} y={y(barLevel[b[2]]) - barH[b[3]] / 2} width={x(b[1]) - x(b[0])} height={barH[b[3]]} fill={barColor[b[2]]} />
      ))}
      <rect x={x0} y={y0} width={w} height={h} fill="none" stroke="#222" strokeWidth={1} />
      {yTicksB.map((t) => (
        <g key={t}>
          <line x1={x0} x2={x0 + 4} y1={y(t)} y2={y(t)} stroke="#222" />
          <line x1={x0 + w - 4} x2={x0 + w} y1={y(t)} y2={y(t)} stroke="#222" />
          <text x={x0 - 4} y={y(t) + (t === -0.5 ? 2 : 5)} textAnchor="end" fontSize={14} fontFamily={REG} fill="#333">{String(t)}</text>
        </g>
      ))}
      {xTicks.map((t) => (
        <g key={t}>
          <line x1={x(t)} x2={x(t)} y1={y0 + h} y2={y0 + h - 4} stroke="#222" />
          <line x1={x(t)} x2={x(t)} y1={y0} y2={y0 + 4} stroke="#222" />
          <text x={x(t) + (t === -0.5 ? 3 : 0)} y={y0 + h + 18} textAnchor="middle" fontSize={14} fontFamily={REG} fill="#333">{String(t)}</text>
        </g>
      ))}
      <text x={x0 + w / 2} y={y0 + h + 37} textAnchor="middle" fontSize={16} fontFamily={REG} fill="#333">{epochLabels[epoch]}</text>
      <text transform={`translate(${x0 - 43},${y0 + h / 2}) rotate(-90)`} textAnchor="middle" fontSize={16} fontFamily={REG} fill="#333">% explained variance</text>
    </g>
  );
}

export default function App() {
  return (
    <svg width={1485} height={2100} style={{ position: 'absolute', left: 0, top: 0, background: '#fff' }}>
      <rect width={1485} height={2100} fill="#fff" />
      <text x={19} y={37} fontSize={30} fontFamily={REG} fill="#111">a</text>
      <text x={19} y={1181} fontSize={30} fontFamily={REG} fill="#111">b</text>

      {rowsA.map((row, r) => row.groups.map((g, gi) => (
        <g key={`a${r}${gi}`}>
          {g.panels.map((series, e) => (
            <PanelA key={e} id={`ca${r}${gi}${e}`} x0={colsA[gi][e]} y0={row.y0} w={wA} h={row.h} epoch={e}
              yDomain={g.yDomain} yTicks={g.yTicks} series={series} showYLabel={e === 0} />
          ))}
          <text x={colsA[gi][0] + g.tpos[0]} y={row.y0 + g.tpos[1]} fontSize={13.5} fontWeight="bold" fontFamily={REG} fill="#000">{g.title}</text>
        </g>
      )))}

      {/* legend (a) */}
      <line x1={79} x2={95} y1={102} y2={102} stroke="#000" strokeWidth={3.5} />
      <text x={102} y={108} fontSize={18} fontFamily={SOFT} fill="#222">selected</text>
      <line x1={79} x2={95} y1={129} y2={129} stroke="#000" strokeWidth={3.5} strokeDasharray="2.5 2.2" />
      <text x={102} y={135} fontSize={18} fontFamily={SOFT} fill="#222">non-selected</text>
      <text x={1198} y={862} fontSize={12} fontFamily={REG} fill="#333">7</text>
      <text x={1200} y={891} fontSize={12} fontFamily={REG} fill="#333">6</text>

      {rowsB.map((row, r) => row.groups.map((g, gi) => (
        <g key={`b${r}${gi}`}>
          <text x={gi === 0 ? 43 : 742} y={row.titleY} fontSize={31} fontFamily={SOFT} fill="#444">{g.title}</text>
          {[0, 1, 2].map((e) => (
            <PanelB key={e} id={`cb${r}${gi}${e}`} x0={colsB[gi][e]} y0={row.y0} w={wB} h={row.h} epoch={e}
              sel={g.sel[e]} non={g.non[e]} sem={g.sem[e]} bars={g.bars[e]} />
          ))}
        </g>
      )))}

      {/* legend (b) */}
      <rect x={102} y={1317} width={19} height={16} fill="#79C6EC" />
      <text x={127} y={1332} fontSize={19} fontFamily={SOFT} fill="#222">selected</text>
      <rect x={102} y={1346} width={19} height={16} fill="#3E6D96" />
      <text x={127} y={1361} fontSize={19} fontFamily={SOFT} fill="#222">non-selected</text>
      <text x={599} y={1331} fontSize={19} fontFamily={SOFT} fill="#222">median</text>
      <text x={631} y={1357} textAnchor="middle" fontSize={19} fontFamily={SOFT} fill="#222">RT</text>
    </svg>
  );
}
